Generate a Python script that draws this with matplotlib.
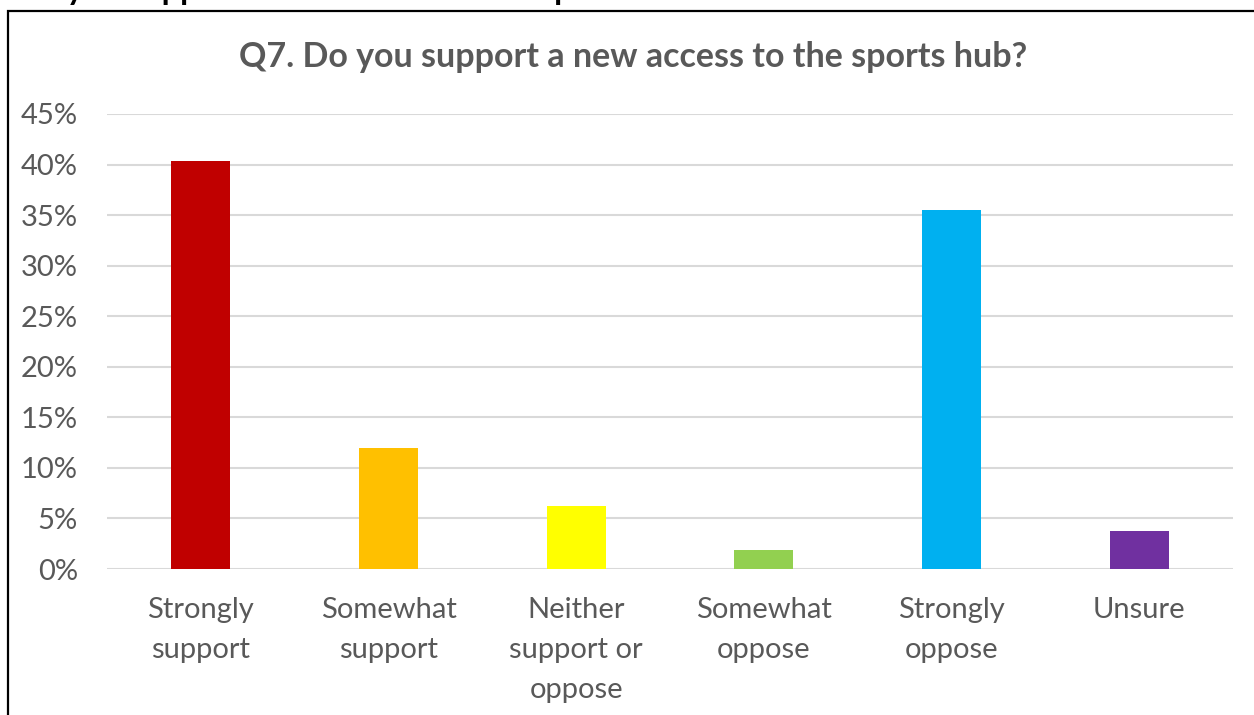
import matplotlib
matplotlib.use('Agg')
import matplotlib.pyplot as plt
from matplotlib.patches import Rectangle

categories = ['Strongly\nsupport', 'Somewhat\nsupport', 'Neither\nsupport or\noppose',
              'Somewhat\noppose', 'Strongly\noppose', 'Unsure']
values = [40.4, 12.0, 6.2, 1.9, 35.5, 3.8]
colors = ['#C00000', '#FFC000', '#FFFF00', '#92D050', '#00B0F0', '#7030A0']
yticks = [0, 5, 10, 15, 20, 25, 30, 35, 40, 45]
title = 'Q7. Do you support a new access to the sports hub?'
top_text = 'Do you support a new access to the sports hub?'

plt.rcParams['font.family'] = ['Lato', 'DejaVu Sans']
W, H = 1254, 715
fig = plt.figure(figsize=(W / 100, H / 100), dpi=100)

# frame around the chart (runs off right and bottom)
fig.patches.append(Rectangle((8 / W, -0.1), 1.2, 1 - 11 / H + 0.1, transform=fig.transFigure,
                             fill=False, edgecolor='black', linewidth=1.6))
# heading above the frame, cut by the top edge as in the source
fig.text(15 / W, 1.0, top_text, ha='left', va='baseline', fontsize=23.5, fontweight='bold', color='black')

ax = fig.add_axes([107 / W, (H - 569) / H, (1233 - 107) / W, (569 - 114) / H])
x = range(len(categories))
ax.bar(x, values, width=0.315, color=colors, zorder=3)
ax.set_xlim(-0.5, len(categories) - 0.5)
ax.set_ylim(0, 45)
ax.set_yticks(yticks)
ax.set_yticklabels([f'{v}%' for v in yticks])
ax.set_xticks(list(x))
ax.set_xticklabels(categories, linespacing=1.68)
for v in yticks:
    ax.axhline(v, color='#D9D9D9', linewidth=1.5, zorder=1)
for s in ax.spines.values():
    s.set_visible(False)
ax.tick_params(axis='both', length=0, labelsize=21, labelcolor='#595959')
ax.tick_params(axis='y', pad=21)
ax.tick_params(axis='x', pad=20)
for lab in ax.get_xticklabels():
    lab.set_verticalalignment('top')

fig.text(633 / W, 1 - 57 / H, title, ha='center', va='center', fontsize=24.5,
         fontweight='bold', color='#595959')

fig.savefig('out.png', dpi=100)
